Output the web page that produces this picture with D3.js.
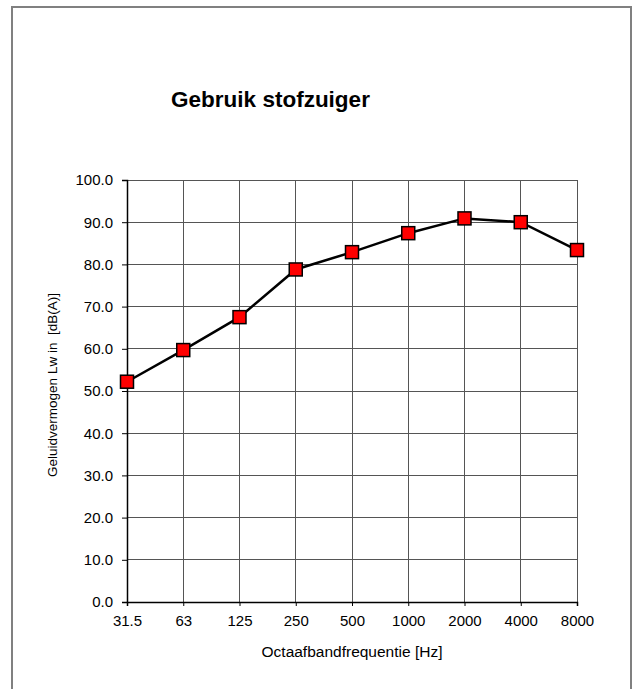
<!DOCTYPE html>
<html><head><meta charset="utf-8">
<script src="https://cdn.jsdelivr.net/npm/d3@7"></script>
<style>body{margin:0;background:#fff;}svg{display:block;font-family:"Liberation Sans",Arial,sans-serif;}</style>
</head><body>
<svg id="c" width="635" height="689"></svg>
<script>
const categories = ["31.5","63","125","250","500","1000","2000","4000","8000"];
const values = [52.2, 59.7, 67.5, 78.8, 82.9, 87.4, 90.9, 90.0, 83.4];
const yTicks = [0,10,20,30,40,50,60,70,80,90,100];
const title = "Gebruik stofzuiger";
const xTitle = "Octaafbandfrequentie [Hz]";
const yTitle = "Geluidvermogen Lw in  [dB(A)]";

const svg = d3.select("#c");
const L = 127, R = 577, T = 180, B = 602;

svg.append("rect").attr("x",12).attr("y",7).attr("width",619).attr("height",700)
  .attr("fill","#fff").attr("stroke","#808080").attr("stroke-width",2);

const x = d3.scalePoint().domain(categories).range([L,R]);
const y = d3.scaleLinear().domain([0,100]).range([B,T]);

svg.append("g").selectAll("line").data(yTicks).join("line")
  .attr("x1",L).attr("x2",R).attr("y1",d=>y(d)).attr("y2",d=>y(d))
  .attr("stroke","#555").attr("stroke-width",1).attr("shape-rendering","crispEdges");
svg.append("g").selectAll("line").data(categories).join("line")
  .attr("x1",d=>x(d)).attr("x2",d=>x(d)).attr("y1",T).attr("y2",B)
  .attr("stroke","#555").attr("stroke-width",1).attr("shape-rendering","crispEdges");

const yAxis = svg.append("g").attr("transform",`translate(${L},0)`)
  .call(d3.axisLeft(y).tickValues(yTicks).tickFormat(d3.format(".1f")).tickSize(5).tickPadding(9));
const xAxis = svg.append("g").attr("transform",`translate(0,${B})`)
  .call(d3.axisBottom(x).tickSize(4).tickPadding(9));
[yAxis,xAxis].forEach(a=>{
  a.select(".domain").attr("stroke","#000").attr("stroke-width",1.5);
  a.selectAll(".tick line").attr("stroke","#000");
  a.selectAll("text").attr("font-size",15).attr("fill","#000").attr("font-family","Liberation Sans, Arial, sans-serif");
});

svg.append("path").datum(values)
  .attr("d", d3.line().x((d,i)=>x(categories[i])).y(d=>y(d)))
  .attr("fill","none").attr("stroke","#000").attr("stroke-width",2.5);

svg.append("g").selectAll("rect").data(values).join("rect")
  .attr("x",(d,i)=>x(categories[i])-6.5).attr("y",d=>y(d)-6.5)
  .attr("width",13).attr("height",13)
  .attr("fill","#ff0000").attr("stroke","#000").attr("stroke-width",1.5);

svg.append("text").attr("x",270.5).attr("y",107).attr("text-anchor","middle")
  .attr("font-size",22.5).attr("font-weight","bold").text(title);
svg.append("text").attr("x",(L+R)/2).attr("y",657).attr("text-anchor","middle")
  .attr("font-size",15.5).text(xTitle);
svg.append("text").attr("transform",`translate(57,385) rotate(-90)`).attr("text-anchor","middle")
  .attr("font-size",13.5).style("white-space","pre").text(yTitle);
</script>
</body></html>
